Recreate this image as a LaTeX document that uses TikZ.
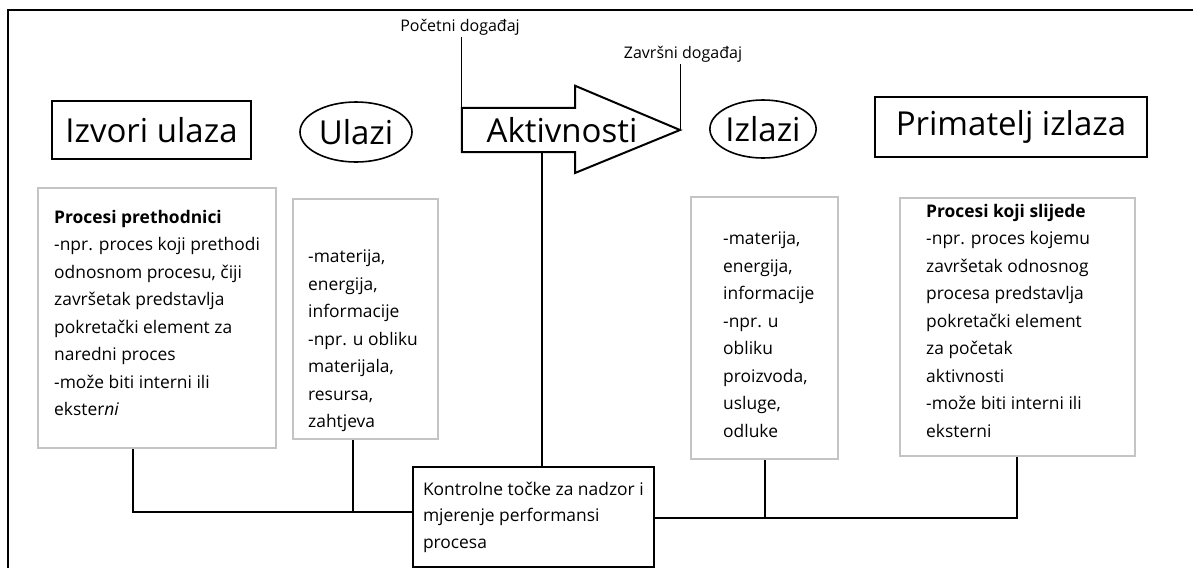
\documentclass[tikz,border=0pt]{standalone}
\usepackage{fontspec}
\setmainfont{Open Sans}
\usetikzlibrary{shapes.geometric}

\definecolor{rubsiva}{RGB}{196,196,196}

\tikzset{
    naslov/.style={draw, line width=2pt, inner sep=0pt, font=\fontsize{33}{40}\selectfont},
    oval/.style={draw, ellipse, line width=1.6pt, inner sep=0pt, font=\fontsize{33}{40}\selectfont},
    okvir/.style={draw=rubsiva, line width=2pt, inner sep=0pt, anchor=north west},
    tekst/.style={align=left, inner sep=0pt, anchor=north west, font=\fontsize{17.4}{27.5}\selectfont},
    oznaka/.style={inner sep=2pt, font=\fontsize{16}{20}\selectfont},
    veza/.style={line width=2pt},
    linija/.style={line width=0.8pt}
}

\begin{document}
\begin{tikzpicture}[x=1pt, y=-1pt]
    \useasboundingbox (0,0) rectangle (1193,568);
    \draw[line width=2.5pt] (8,568) -- (8,10) -- (1193,10);

    % naslovi
    \node[naslov, minimum width=199, minimum height=58] (izvori) at (151.5,130) {Izvori ulaza};
    \node[oval, minimum width=112, minimum height=60] (ulazi) at (356,132) {Ulazi};
    \node[oval, minimum width=106, minimum height=58] (izlazi) at (763,129) {Izlazi};
    \node[naslov, minimum width=272, minimum height=60] (primatelj) at (1011,127) {Primatelj izlaza};

    % strelica aktivnosti
    \node[minimum width=113, minimum height=44, inner sep=0pt] (tijelo) at (518.5,130) {};
    \coordinate (vrh) at (680,130);
    \draw[veza, line join=miter] (tijelo.north west) -- (tijelo.north east) -- ++(0,-22) -- (vrh)
        -- ++(-105,43) -- (tijelo.south east) -- (tijelo.south west) -- cycle;
    \node[font=\fontsize{33}{40}\selectfont, inner sep=0pt] (akt) at (562,130) {Aktivnosti};

    % dogadaji
    \node[oznaka] (pocetni) at (460,27) {Početni događaj};
    \node[oznaka] (zavrsni) at (683,54) {Završni događaj};
    \draw[linija] (tijelo.north west) -- (tijelo.north west |- pocetni.south);
    \draw[linija] (vrh) -- (vrh |- zavrsni.south);

    % okviri s opisom
    \node[okvir, minimum width=238, minimum height=260] (pret) at (37,187) {};
    \node[tekst] (pret-t) at ([shift={(17,23)}]pret.north west)
        {\textbf{Procesi prethodnici}\\-npr. proces koji prethodi\\odnosnom procesu, čiji\\završetak predstavlja\\pokretački element za\\naredni proces\\-može biti interni ili\\ekster\textit{ni}};
    \node[okvir, minimum width=145, minimum height=240] (ul) at (292,198) {};
    \node[tekst] (ul-t) at ([shift={(16,52)}]ul.north west)
        {-materija,\\energija,\\informacije\\-npr. u obliku\\materijala,\\resursa,\\zahtjeva};
    \node[okvir, minimum width=147, minimum height=262] (izl) at (690,196) {};
    \node[tekst] (izl-t) at ([shift={(33,36)}]izl.north west)
        {-materija,\\energija,\\informacije\\-npr. u\\obliku\\proizvoda,\\usluge,\\odluke};
    \node[okvir, minimum width=235, minimum height=258] (sljed) at (899,197) {};
    \node[tekst] (sljed-t) at ([shift={(27,7)}]sljed.north west)
        {\textbf{Procesi koji slijede}\\-npr. proces kojemu\\završetak odnosnog\\procesa predstavlja\\pokretački element\\za početak\\aktivnosti\\-može biti interni ili\\eksterni};

    % kontrolne tocke
    \node[draw, line width=2pt, align=left, inner xsep=10pt, inner ysep=0pt, minimum height=100,
        anchor=north west, font=\fontsize{17.4}{26.5}\selectfont] (kontrola) at (412,466)
        {Kontrolne točke za nadzor i\\mjerenje performansi\\procesa};

    % veze
    \coordinate (lbus) at (133,512);
    \coordinate (lbus2) at (353,512);
    \coordinate (dbus) at (1017,518);
    \coordinate (kvrh) at (542,466);
    \draw[veza] (pret.south -| lbus) -- (lbus) -- (kontrola.west |- lbus);
    \draw[veza] (ul.south -| lbus2) -- (lbus2);
    \draw[veza] (kontrola.east |- dbus) -- (dbus) -- (sljed.south -| dbus);
    \draw[veza] (izl.south) -- (izl.south |- dbus);
    \draw[veza] (tijelo.south -| kvrh) -- (kvrh |- kontrola.north);
\end{tikzpicture}
\end{document}
